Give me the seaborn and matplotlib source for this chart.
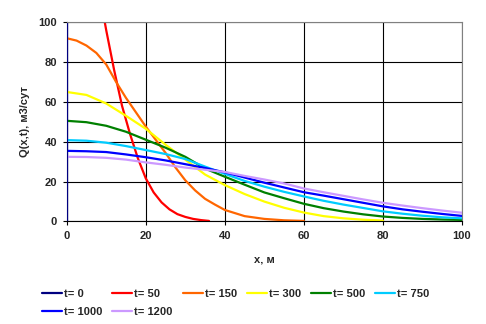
import matplotlib
matplotlib.use("Agg")
import matplotlib.pyplot as plt
import seaborn as sns
import pandas as pd

# ---- data ----
t0_x = [0, 0]
t0_q = [1000, 0]

t50_x = [0, 5, 8, 10, 12, 14, 16, 18, 20, 22, 24, 26, 28, 30, 32, 34, 36]
t50_q = [180, 150, 118, 96, 76, 58, 44, 31.7, 21.6, 14.5, 9.5, 6.0, 3.6, 2.2, 1.2, 0.6, 0.2]

t150_x = [0, 2.5, 5, 7.5, 10, 12.5, 15, 17.5, 20, 22.5, 25, 27.5, 30, 32.5, 35, 37.5, 40, 45, 50, 55, 60]
t150_q = [92, 90.8, 88.3, 84.6, 78.8, 70, 62, 54.8, 47.6, 41, 34.4, 27.1, 20.6, 15.5, 11.3, 8.4, 5.7, 2.6, 1.2, 0.5, 0.2]

x5 = [0, 5, 10, 15, 20, 25, 30, 35, 40, 45, 50, 55, 60, 65, 70, 75, 80, 85, 90, 95, 100]

t300_x = x5[:17]
t300_q = [65, 63.5, 59.2, 53, 46.5, 38.5, 31, 23.5, 18.2, 13.7, 9.9, 6.8, 4.4, 2.6, 1.5, 0.8, 0.4]

t500_q = [50.5, 49.8, 48, 45, 41, 37, 32.4, 26.5, 22.4, 18.4, 14.5, 11.6, 8.8, 6.6, 4.9, 3.5, 2.4, 1.7, 1.2, 0.9, 0.7]
t750_q = [40.8, 40.5, 39.5, 37.8, 35.8, 33.8, 31.3, 27.5, 23.8, 20.3, 17.4, 14.8, 12.5, 10.3, 8.4, 6.7, 5.0, 3.8, 2.8, 2.0, 1.5]
t1000_q = [35.4, 35.2, 34.8, 33.6, 32.2, 30.6, 28.7, 26.8, 24.6, 22, 19.4, 17, 14.6, 12.9, 11.1, 9.3, 7.5, 6.0, 4.8, 3.7, 2.7]
t1200_q = [32.4, 32.3, 31.9, 31, 29.6, 28.4, 27, 25.9, 24.8, 22.8, 21, 19, 16.5, 14.6, 12.8, 11, 9.3, 7.9, 6.6, 5.4, 4.3]

labels = ["t= 0", "t= 50", "t= 150", "t= 300", "t= 500", "t= 750", "t= 1000", "t= 1200"]
colors = ["#000080", "#FF0000", "#FF6600", "#FFFF00", "#008000", "#00CCFF", "#0000FF", "#CC99FF"]

xticks = [0, 20, 40, 60, 80, 100]
yticks = [0, 20, 40, 60, 80, 100]

series = [
    (t0_x, t0_q), (t50_x, t50_q), (t150_x, t150_q), (t300_x, t300_q),
    (x5, t500_q), (x5, t750_q), (x5, t1000_q), (x5, t1200_q),
]

rows = []
for lab, (xs, qs) in zip(labels, series):
    for xv, qv in zip(xs, qs):
        rows.append({"x": xv, "q": qv, "t": lab})
df = pd.DataFrame(rows)

sns.set_theme(style="white")
plt.rcParams["font.family"] = ["Liberation Sans", "DejaVu Sans"]
plt.rcParams["font.weight"] = "bold"

FS = 8

fig = plt.figure(figsize=(4.86, 3.24), dpi=100)
ax = fig.add_axes([66.7 / 486, 102.7 / 324, 395.3 / 486, 199 / 324])

sns.lineplot(data=df, x="x", y="q", hue="t", hue_order=labels,
             palette=dict(zip(labels, colors)), estimator=None, sort=False,
             units="t", linewidth=1.6, ax=ax, legend=True)

ax.set_xlim(0, 100)
ax.set_ylim(0, 100)
ax.set_xticks(xticks)
ax.set_yticks(yticks)
ax.set_xticklabels([str(v) for v in xticks], fontsize=FS, fontweight="bold")
ax.set_yticklabels([str(v) for v in yticks], fontsize=FS, fontweight="bold")
ax.grid(True, color="black", linewidth=0.8)
ax.set_axisbelow(True)
ax.tick_params(axis="both", direction="out", length=3, width=0.8, color="black",
               pad=4, bottom=True, left=True)
ax.set_xlabel("x, м", fontsize=FS, fontweight="bold", labelpad=10)
ax.set_ylabel("Q(x,t), м3/сут", fontsize=FS, fontweight="bold", labelpad=6)

for s in ["top", "right"]:
    ax.spines[s].set_color("#808080")
    ax.spines[s].set_linewidth(0.8)
ax.spines["bottom"].set_color("black")
ax.spines["bottom"].set_linewidth(0.8)
ax.spines["left"].set_color("#000080")
ax.spines["left"].set_linewidth(0.8)

handles, labs = ax.get_legend_handles_labels()
hmap = dict(zip(labs, handles))
order = ["t= 0", "t= 1000", "t= 50", "t= 1200", "t= 150", "t= 300", "t= 500", "t= 750"]
ax.legend([hmap[k] for k in order], order, loc="upper left",
          bbox_to_anchor=(42 / 486, 1 - 289 / 324), bbox_transform=fig.transFigure,
          ncol=6, frameon=False, borderpad=0, borderaxespad=0,
          handlelength=1.8, handletextpad=0.18, columnspacing=0.9,
          labelspacing=0.75, prop={"size": FS, "weight": "bold"})

fig.savefig("out.png", dpi=100)
